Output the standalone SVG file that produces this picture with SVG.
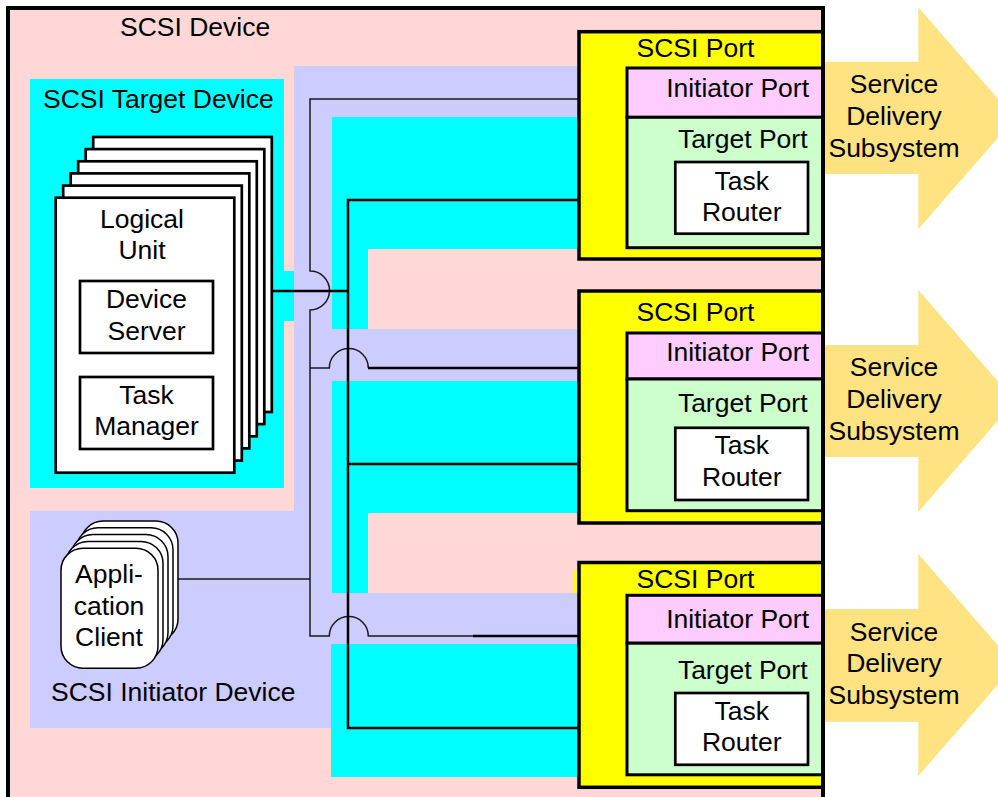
<svg xmlns="http://www.w3.org/2000/svg" width="998" height="797" viewBox="0 0 998 797">
<style>
.t{font-family:"Liberation Sans",Arial,Helvetica,sans-serif;font-size:26.5px;fill:#000}
.m{text-anchor:middle}
.e{text-anchor:end}
.pg{fill:#fff;stroke:#000;stroke-width:2.7}
.ac{fill:#fff;stroke:#000;stroke-width:1.5}
.yel{fill:#FFFF00;stroke:#000;stroke-width:3.5}
.ini{fill:#FFCCFF;stroke:#000;stroke-width:3}
.tgt{fill:#CCFFCC;stroke:#000;stroke-width:3}
.tr{fill:#fff;stroke:#000;stroke-width:2.7}
.arr{fill:#FFE383}
.lav{fill:#CCCCFF}
.cya{fill:#00FFFF}
.thin{fill:none;stroke:#1a1a1a;stroke-width:1.5}
.thick{fill:none;stroke:#000;stroke-width:2.5}
</style>
<rect width="998" height="797" fill="#fff"/>
<g id="arrows">
<polygon class="arr" points="822,61.7 918.3,61.7 918.3,7.3 1015,118.3 918.3,229.3 918.3,174 822,174"/>
<polygon class="arr" points="822,345 918.3,345 918.3,290 1015,401 918.3,512 918.3,457 822,457"/>
<polygon class="arr" points="822,609 918.3,609 918.3,554 1015,665 918.3,776 918.3,721.7 822,721.7"/>
<text class="t m" x="894" y="93">Service</text>
<text class="t m" x="894" y="125">Delivery</text>
<text class="t m" x="894" y="157">Subsystem</text>
<text class="t m" x="894" y="376">Service</text>
<text class="t m" x="894" y="408">Delivery</text>
<text class="t m" x="894" y="440">Subsystem</text>
<text class="t m" x="894" y="641">Service</text>
<text class="t m" x="894" y="672">Delivery</text>
<text class="t m" x="894" y="704">Subsystem</text>
</g>
<g id="scsi-device">
<rect x="8" y="8" width="815" height="800" fill="#FFD7D7"/>
<text class="t" x="120" y="36">SCSI Device</text>
</g>
<g id="initiator-device">
<rect class="lav" x="294" y="66" width="284" height="51"/>
<rect class="lav" x="294" y="66" width="38" height="662"/>
<rect class="lav" x="294" y="329" width="284" height="52"/>
<rect class="lav" x="294" y="593" width="284" height="51"/>
<rect class="lav" x="30" y="511" width="302" height="217"/>
<text class="t" x="51" y="701">SCSI Initiator Device</text>
</g>
<g id="target-device">
<rect class="cya" x="30" y="79" width="254" height="409"/>
<rect class="cya" x="283" y="271" width="11" height="50"/>
<path class="cya" d="M332 117H578V249H368V329H332Z"/>
<path class="cya" d="M332 381H578V513H368V593H332Z"/>
<rect class="cya" x="331" y="644" width="247" height="133"/>
<text class="t" x="43" y="108">SCSI Target Device</text>
</g>
<g id="connectors">
<path class="thin" d="M578 99H310V271A19.5 19.5 0 0 1 310 310V636H329.3A19.5 19.5 0 0 1 368.3 636H473"/>
<path class="thin" d="M310 368H329.3A19.5 19.5 0 0 1 368.3 368"/>
<path class="thin" d="M176 579H310"/>
<path class="thick" d="M368 368H578"/>
<path class="thick" d="M473 636H578"/>
<path class="thick" d="M272 291H348"/>
<path class="thick" d="M578 200H348V728H578"/>
<path class="thick" d="M348 464H578"/>
</g>
<g id="logical-unit">
<rect class="pg" x="93.2" y="137" width="178.6" height="275"/>
<rect class="pg" x="85.7" y="149.1" width="178.6" height="275"/>
<rect class="pg" x="78.2" y="161.3" width="178.6" height="275"/>
<rect class="pg" x="70.7" y="173.4" width="178.6" height="275"/>
<rect class="pg" x="63.2" y="185.6" width="178.6" height="275"/>
<rect class="pg" x="55.7" y="197.7" width="178.6" height="275"/>
<text class="t m" x="142" y="228">Logical</text>
<text class="t m" x="142" y="259">Unit</text>
</g>
<g id="device-server">
<rect class="tr" x="80" y="281" width="133" height="72"/>
<text class="t m" x="146.5" y="308">Device</text>
<text class="t m" x="146.5" y="340">Server</text>
</g>
<g id="task-manager">
<rect class="tr" x="80" y="377" width="133" height="72"/>
<text class="t m" x="146.5" y="404">Task</text>
<text class="t m" x="146.5" y="435">Manager</text>
</g>
<g id="application-client">
<rect class="ac" x="81" y="521" width="97" height="120" rx="22"/>
<rect class="ac" x="76" y="527.8" width="97" height="120" rx="22"/>
<rect class="ac" x="71" y="534.6" width="97" height="120" rx="22"/>
<rect class="ac" x="66" y="541.4" width="97" height="120" rx="22"/>
<rect class="ac" x="61" y="548.2" width="97" height="120" rx="22"/>
<text class="t m" x="109" y="583">Appli-</text>
<text class="t m" x="109" y="615">cation</text>
<text class="t m" x="109" y="646">Client</text>
</g>
<g id="port1">
<rect class="yel" x="579" y="31.7" width="244" height="227.3"/>
<rect class="ini" x="627" y="68" width="196" height="49.3"/>
<rect class="tgt" x="627" y="117.3" width="196" height="130.4"/>
<rect class="tr" x="675.3" y="162" width="132.7" height="71.7"/>
<text class="t" x="636.5" y="57">SCSI Port</text>
<text class="t e" x="809" y="97">Initiator Port</text>
<text class="t e" x="807.5" y="148">Target Port</text>
<text class="t m" x="741.7" y="190">Task</text>
<text class="t m" x="741.7" y="221">Router</text>
</g>
<g id="port2">
<rect class="yel" x="579" y="291" width="244" height="232"/>
<rect class="ini" x="627" y="333" width="196" height="46"/>
<rect class="tgt" x="627" y="379" width="196" height="131.7"/>
<rect class="tr" x="675.3" y="427.8" width="132.7" height="72.2"/>
<text class="t" x="636.5" y="321">SCSI Port</text>
<text class="t e" x="809" y="361">Initiator Port</text>
<text class="t e" x="807.5" y="412">Target Port</text>
<text class="t m" x="741.7" y="454">Task</text>
<text class="t m" x="741.7" y="486">Router</text>
</g>
<g id="port3">
<rect x="573" y="570" width="6" height="23" fill="#FFFF00"/>
<rect class="yel" x="579" y="562.5" width="244" height="224.8"/>
<rect class="ini" x="627" y="595.3" width="196" height="47.9"/>
<rect class="tgt" x="627" y="643.2" width="196" height="131.6"/>
<rect class="tr" x="675.3" y="693" width="132.7" height="71.8"/>
<text class="t" x="636.5" y="588">SCSI Port</text>
<text class="t e" x="809" y="628">Initiator Port</text>
<text class="t e" x="807.5" y="679">Target Port</text>
<text class="t m" x="741.7" y="720">Task</text>
<text class="t m" x="741.7" y="751">Router</text>
</g>
<g id="scsi-device-border">
<rect x="8" y="8" width="815" height="800" fill="none" stroke="#000" stroke-width="4"/>
</g>
</svg>
